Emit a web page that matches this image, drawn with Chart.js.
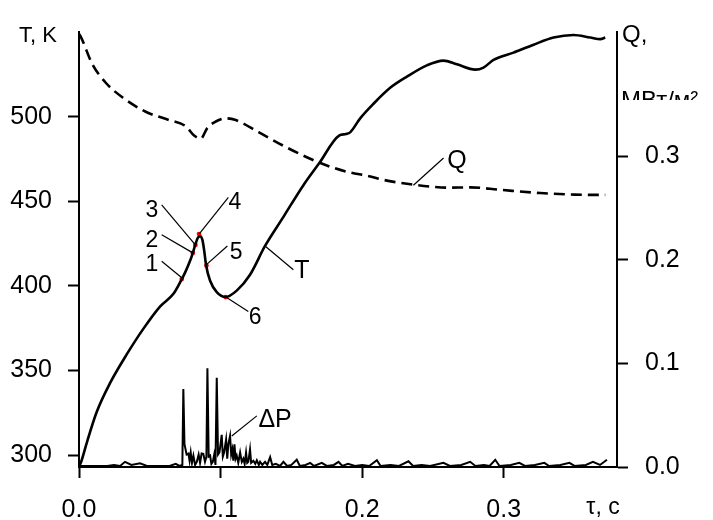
<!DOCTYPE html>
<html>
<head>
<meta charset="utf-8">
<script src="https://cdn.jsdelivr.net/npm/chart.js@4/dist/chart.umd.min.js"></script>
<style>
  html, body { margin: 0; padding: 0; background: #fff; }
  #wrap { width: 713px; height: 520px; }
</style>
</head>
<body>
<div id="wrap"><canvas id="chart"></canvas></div>
<script>
// температура T, K
var tauT = [0, 0.0019, 0.0059, 0.0125, 0.0219, 0.0337, 0.0454, 0.0572, 0.0667, 0.0726,
    0.0750, 0.0790, 0.0804, 0.0822, 0.0840, 0.0857, 0.0872, 0.0884, 0.0898, 0.0926,
    0.0973, 0.1036, 0.1114, 0.1208, 0.1314, 0.1444, 0.1585, 0.1696, 0.1837, 0.1885,
    0.1915, 0.1986, 0.2080, 0.2198, 0.2316, 0.2457, 0.2574, 0.2669, 0.2799, 0.2857,
    0.2928, 0.3069, 0.3211, 0.3352, 0.3493, 0.3611, 0.3682, 0.3717];
var valT = [293, 297, 308.5, 325.5, 342.5, 359.5, 374.6, 387.8, 395.3, 404,
    408, 416, 419.5, 424.5, 428.5, 429.3, 427, 421, 412, 403,
    396.3, 393.4, 397.2, 406.6, 423.6, 440.8, 459.5, 472.4, 488.8, 489.7,
    490.7, 499, 507.6, 517, 523.6, 530.3, 533.1, 530.9, 527.8, 529,
    533.5, 537.8, 542.5, 546.7, 548.2, 546.7, 545.8, 546.7];

// тепловой поток Q, МВт/м2
var tauQ = [0, 0.0012, 0.0094, 0.0189, 0.0306, 0.0471, 0.0636, 0.0754, 0.0813, 0.0860,
    0.0907, 0.0966, 0.1036, 0.1107, 0.1272, 0.1460, 0.1649, 0.1797, 0.1915, 0.2033,
    0.2175, 0.2316, 0.2504, 0.2599, 0.2763, 0.2975, 0.3258, 0.3500, 0.3682, 0.3717];
var valQ = [0.418, 0.4155, 0.389, 0.371, 0.357, 0.343, 0.335, 0.329, 0.320, 0.317,
    0.3275, 0.3336, 0.3367, 0.335, 0.323, 0.309, 0.2966, 0.2889, 0.2843, 0.2812,
    0.2765, 0.2734, 0.2704, 0.2697, 0.2700, 0.2676, 0.2645, 0.2630, 0.2627, 0.2627];

// пульсации давления dP (в масштабе правой оси)
var tauP = [0, 0.010, 0.020, 0.0247, 0.0290, 0.0325, 0.0370, 0.0431, 0.0480, 0.0570,
    0.0640, 0.0683, 0.0710, 0.0730, 0.0737, 0.0745, 0.0760, 0.0773, 0.0781, 0.0789,
    0.0798, 0.0808, 0.0820, 0.0832, 0.0845, 0.0855, 0.0866, 0.0878, 0.0890, 0.0900,
    0.0907, 0.0916, 0.0926, 0.0935, 0.0945, 0.0955, 0.0964, 0.0973, 0.0982, 0.0992,
    0.1008, 0.1016, 0.1025, 0.1039, 0.1047, 0.1055, 0.1067, 0.1075, 0.1083, 0.1090,
    0.1098, 0.1106, 0.1114, 0.1125, 0.1138, 0.1150, 0.1161, 0.1170, 0.1180, 0.1188,
    0.1196, 0.1208, 0.1216, 0.1232, 0.1245, 0.1256, 0.1270, 0.1279, 0.1295, 0.1314,
    0.1330, 0.1350, 0.1365, 0.1390, 0.1420, 0.1444, 0.1470, 0.1500, 0.1538, 0.1560,
    0.1600, 0.1633, 0.1660, 0.1715, 0.1750, 0.1800, 0.1833, 0.1860, 0.1900, 0.1950,
    0.2000, 0.2050, 0.2104, 0.2130, 0.2200, 0.2260, 0.2327, 0.2360, 0.2420, 0.2480,
    0.2574, 0.2620, 0.2700, 0.2763, 0.2800, 0.2860, 0.2900, 0.2940, 0.2970, 0.3050,
    0.3110, 0.3150, 0.3220, 0.3287, 0.3320, 0.3400, 0.3464, 0.3500, 0.3580, 0.3630,
    0.3680, 0.3729];
var valP = [0.001, 0.001, 0.001, 0.002, 0.001, 0.005, 0.002, 0.0035, 0.001, 0.001,
    0.001, 0.003, 0.001, 0.002, 0.0753, 0.022, 0.012, 0.013, 0.006, 0.014,
    0.004, 0.011, 0.002, 0.005, 0.012, 0.004, 0.013, 0.0127, 0.005, 0.010,
    0.0954, 0.010, 0.011, 0.003, 0.005, 0.012, 0.002, 0.0861, 0.012, 0.014,
    0.031, 0.010, 0.014, 0.0265, 0.008, 0.022, 0.030, 0.012, 0.017, 0.006,
    0.022, 0.008, 0.011, 0.004, 0.014, 0.005, 0.008, 0.003, 0.014, 0.004,
    0.005, 0.017, 0.004, 0.006, 0.003, 0.0065, 0.002, 0.005, 0.002, 0.005,
    0.002, 0.0095, 0.002, 0.003, 0.001, 0.005, 0.001, 0.002, 0.007, 0.001,
    0.002, 0.004, 0.001, 0.004, 0.001, 0.002, 0.005, 0.001, 0.003, 0.001,
    0.002, 0.001, 0.0065, 0.001, 0.002, 0.001, 0.0055, 0.001, 0.002, 0.001,
    0.004, 0.001, 0.002, 0.005, 0.001, 0.002, 0.001, 0.007, 0.001, 0.002,
    0.004, 0.001, 0.002, 0.004, 0.001, 0.002, 0.004, 0.001, 0.002, 0.005,
    0.002, 0.007];

// характерные точки 1-6 на кривой T
var markTau = [0.0726, 0.0804, 0.0822, 0.0848, 0.0900, 0.1036];
var markT = [404, 419.5, 424.2, 430.6, 412, 393.4];

var ticksTau = [0, 0.1, 0.2, 0.3];
var ticksT = [300, 350, 400, 450, 500];
var ticksQ = [0, 0.1, 0.2, 0.3];

// подписи с выносками (в координатах tau / T)
var notes = [
    { text: "1", tx: 0.0514, ty: 412.3, lx: 0.0584, ly: 414.6, px: 0.0726, py: 404.8 },
    { text: "2", tx: 0.0514, ty: 426.9, lx: 0.0584, ly: 430.2, px: 0.0804, py: 419.5 },
    { text: "3", tx: 0.0514, ty: 444.4, lx: 0.0584, ly: 447.8, px: 0.0822, py: 424.2 },
    { text: "4", tx: 0.1102, ty: 449.1, lx: 0.1055, ly: 452.3, px: 0.0848, py: 430.6 },
    { text: "5", tx: 0.1110, ty: 419.9, lx: 0.1048, ly: 423.6, px: 0.0902, py: 412.7 },
    { text: "6", tx: 0.1244, ty: 381.2, lx: 0.1196, ly: 384.9, px: 0.1037, py: 393.4 },
    { text: "T", tx: 0.1574, ty: 408.6, lx: 0.1514, ly: 409.5, px: 0.1314, py: 423.6 },
    { text: "Q", tx: 0.2669, ty: 473.7, lx: 0.2575, ly: 475.6, px: 0.2362, py: 459.5 },
    { text: "\u0394P", tx: 0.1385, ty: 320.8, lx: 0.1256, ly: 323.2, px: 0.1079, py: 311.3 }
];

var FONT = "'Liberation Sans', Arial, sans-serif";

function pairs(xs, ys) {
    return xs.map(function (x, i) { return { x: x, y: ys[i] }; });
}

function fixTicks(list) {
    return function (scale) {
        scale.ticks = list.map(function (v) { return { value: v }; });
    };
}

var labelsPlugin = {
    id: 'labels',
    afterDatasetsDraw: function (chart) {
        var ctx = chart.ctx;
        var sx = chart.scales.x, sy = chart.scales.yT;
        var area = chart.chartArea;
        ctx.save();
        ctx.fillStyle = '#000';
        ctx.strokeStyle = '#000';
        ctx.lineWidth = 1.2;
        ctx.textAlign = 'center';
        ctx.textBaseline = 'middle';
        notes.forEach(function (n) {
            ctx.beginPath();
            ctx.moveTo(sx.getPixelForValue(n.lx), sy.getPixelForValue(n.ly));
            ctx.lineTo(sx.getPixelForValue(n.px), sy.getPixelForValue(n.py));
            ctx.stroke();
            ctx.font = (/^\d$/.test(n.text) ? '23px ' : '25px ') + FONT;
            ctx.fillText(n.text, sx.getPixelForValue(n.tx), sy.getPixelForValue(n.ty));
        });

        // подписи осей
        ctx.font = '22px ' + FONT;
        ctx.textAlign = 'center';
        ctx.fillText('T, K', 38, 36);
        ctx.textAlign = 'left';
        ctx.font = '24px ' + FONT;
        ctx.fillText('Q,', area.right + 5, 35);
        ctx.save();
        ctx.beginPath();
        ctx.rect(area.right + 2, 80, 100, 20);
        ctx.clip();
        ctx.textBaseline = 'top';
        ctx.fillText('\u041c\u0412\u0442/\u043c\u00b2', area.right + 4, 89);
        ctx.restore();
        ctx.textAlign = 'center';
        ctx.font = '23px ' + FONT;
        ctx.fillText('\u03c4, c', 603, 508);
        ctx.restore();
    }
};

var axisStyle = {
    grid: { drawOnChartArea: false, color: '#000', tickLength: 11, tickWidth: 2 },
    border: { color: '#000', width: 2 }
};

new Chart(document.getElementById('chart'), {
    type: 'line',
    data: {
        datasets: [{
            label: 'T',
            data: pairs(tauT, valT),
            yAxisID: 'yT',
            borderColor: '#000',
            borderWidth: 2.6,
            pointRadius: 0,
            cubicInterpolationMode: 'monotone'
        }, {
            label: 'Q',
            data: pairs(tauQ, valQ),
            yAxisID: 'yQ',
            borderColor: '#000',
            borderWidth: 2.6,
            borderDash: [11, 6],
            pointRadius: 0,
            cubicInterpolationMode: 'monotone'
        }, {
            label: 'dP',
            data: pairs(tauP, valP),
            yAxisID: 'yQ',
            borderColor: '#000',
            borderWidth: 2,
            pointRadius: 0,
            tension: 0
        }, {
            label: 'points',
            data: pairs(markTau, markT),
            yAxisID: 'yT',
            showLine: false,
            pointRadius: 2.4,
            pointBackgroundColor: '#ff0000',
            pointBorderWidth: 0
        }]
    },
    options: {
        responsive: true,
        maintainAspectRatio: false,
        animation: false,
        layout: { padding: { top: 13, left: 0, right: 0, bottom: 0 } },
        plugins: { legend: { display: false }, tooltip: { enabled: false } },
        scales: {
            x: Object.assign({
                type: 'linear',
                min: 0,
                max: 0.38,
                afterBuildTicks: fixTicks(ticksTau),
                afterFit: function (s) { s.height = 53; },
                ticks: {
                    autoSkip: false, maxRotation: 0, padding: 17, color: '#000',
                    font: { family: FONT, size: 25 },
                    callback: function (v) { return v.toFixed(1); }
                }
            }, axisStyle),
            yT: Object.assign({
                type: 'linear',
                position: 'left',
                min: 293,
                max: 550,
                afterBuildTicks: fixTicks(ticksT),
                afterFit: function (s) { s.width = 79; },
                ticks: {
                    autoSkip: false, padding: 16, color: '#000',
                    font: { family: FONT, size: 25 }
                }
            }, axisStyle),
            yQ: Object.assign({
                type: 'linear',
                position: 'right',
                min: 0,
                max: 0.42,
                afterBuildTicks: fixTicks(ticksQ),
                afterFit: function (s) { s.width = 96; },
                ticks: {
                    autoSkip: false, padding: 17, color: '#000',
                    font: { family: FONT, size: 25 },
                    callback: function (v) { return v.toFixed(1); }
                }
            }, axisStyle)
        }
    },
    plugins: [labelsPlugin]
});
</script>
</body>
</html>
